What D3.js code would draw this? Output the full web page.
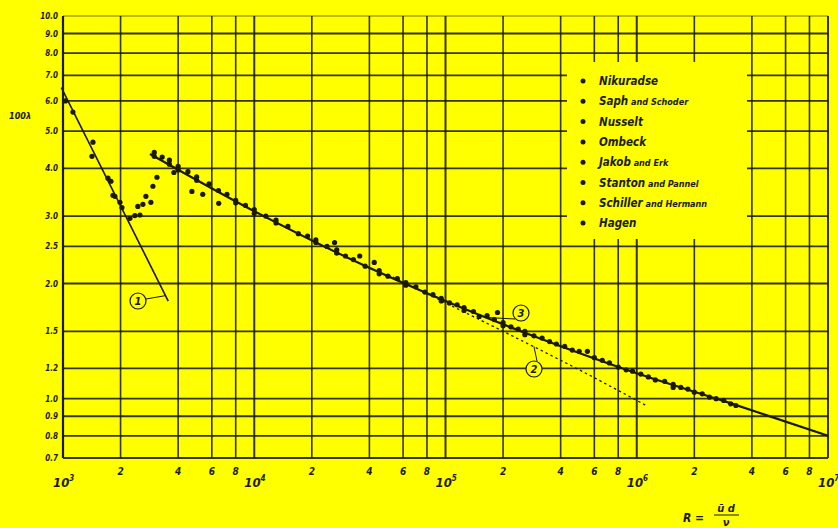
<!DOCTYPE html>
<html>
<head>
<meta charset="utf-8">
<script src="https://cdn.jsdelivr.net/npm/d3@7"></script>
<style>
  html, body { margin: 0; padding: 0; background: #ffff00; }
  svg { display: block; }
  text { font-family: "Liberation Sans Narrow", "DejaVu Sans Condensed", "Liberation Sans", sans-serif; font-style: italic; font-weight: bold; fill: #1c1c00; }
</style>
</head>
<body>
<svg id="chart" width="838" height="528"></svg>
<script>
// ---------- data ----------
const yTickValues = [10, 9, 8, 7, 6, 5, 4, 3, 2.5, 2, 1.5, 1.2, 1.0, 0.9, 0.8, 0.7];
const yTickLabels = ["10.0", "9.0", "8.0", "7.0", "6.0", "5.0", "4.0", "3.0", "2.5", "2.0", "1.5", "1.2", "1.0", "0.9", "0.8", "0.7"];
const decades = [1e3, 1e4, 1e5, 1e6, 1e7];
const decadeExponents = ["3", "4", "5", "6", "7"];
const minorMultipliers = [2, 4, 6, 8];

const legendEntries = [
  ["Nikuradse", ""],
  ["Saph", " and Schoder"],
  ["Nusselt", ""],
  ["Ombeck", ""],
  ["Jakob", " and Erk"],
  ["Stanton", " and Pannel"],
  ["Schiller", " and Hermann"],
  ["Hagen", ""]
];

// curve 1: laminar
const laminarLineR = [980, 3550];
const laminarLineV = [6.5, 1.80];
// curve 3: smooth pipe (solid)
const smoothLineR = [2850, 1e4, 3e4, 1e5, 3e5, 1e6, 3e6, 1e7];
const smoothLineV = [4.36, 3.09, 2.35, 1.80, 1.447, 1.165, 0.978, 0.80];
// curve 2: dashed
const dashedLineR = [5e4, 1e5, 2e5, 5e5, 1.12e6];
const dashedLineV = [2.11, 1.78, 1.50, 1.19, 0.96];

// measured points
const laminarR = [1030, 1127, 1434, 1417, 1718, 1781, 1824, 1868, 1985, 2033];
const laminarV = [6.0, 5.61, 4.68, 4.30, 3.77, 3.70, 3.40, 3.38, 3.26, 3.16];

const transitionR = [2239, 2375, 2525, 2461, 2617, 2713, 2880, 2952, 3100];
const transitionV = [2.96, 3.01, 3.02, 3.18, 3.22, 3.38, 3.26, 3.59, 3.79];

const turbulentR = [3000, 3000, 3300, 3600, 3600, 3800, 4000, 4000, 4500, 4720, 5000, 5000, 5380, 5800, 6500, 6520, 7200,
  8000, 8000, 9000, 10000, 10000, 11500, 13000, 13000, 15000, 17000, 19000, 21000, 21000, 24000, 26300, 27000, 27000,
  30000, 33000, 35600, 38000, 42400, 45000, 45000, 50000, 56000, 62000, 62000, 70000, 78000, 86000, 95000, 95000,
  105000, 115000, 125000, 125000, 140000, 150000, 165000, 180000, 187000, 200000, 200000, 220000, 240000, 260000, 260000,
  290000, 320000, 350000, 380000, 420000, 460000, 500000, 552000, 600000, 660000, 720000, 800000, 880000, 950000,
  1050000, 1150000, 1250000, 1400000, 1550000, 1550000, 1700000, 1850000, 2000000, 2200000, 2400000, 2600000, 2850000,
  3100000, 3300000];
const turbulentV = [4.40, 4.30, 4.28, 4.10, 4.20, 3.90, 4.05, 3.96, 3.92, 3.48, 3.80, 3.72, 3.42, 3.64, 3.50, 3.24, 3.42,
  3.30, 3.25, 3.20, 3.12, 3.05, 3.00, 2.88, 2.93, 2.82, 2.70, 2.66, 2.56, 2.60, 2.50, 2.56, 2.45, 2.40,
  2.36, 2.31, 2.36, 2.22, 2.27, 2.16, 2.12, 2.09, 2.06, 2.01, 1.98, 1.96, 1.90, 1.87, 1.83, 1.80,
  1.78, 1.76, 1.73, 1.70, 1.69, 1.64, 1.65, 1.61, 1.68, 1.58, 1.55, 1.54, 1.52, 1.50, 1.47,
  1.46, 1.44, 1.41, 1.39, 1.37, 1.34, 1.33, 1.33, 1.28, 1.26, 1.24, 1.21, 1.19, 1.18,
  1.16, 1.14, 1.12, 1.11, 1.09, 1.07, 1.07, 1.06, 1.04, 1.03, 1.01, 1.00, 0.99,
  0.97, 0.96];

// ---------- drawing ----------
const svg = d3.select("#chart");
const ink = "#1a1a00";
svg.append("rect").attr("width", 838).attr("height", 528).attr("fill", "#ffff00");

const x = d3.scaleLog().domain([1e3, 1e7]).range([63, 828]);
const y = d3.scaleLog().domain([0.7, 10]).range([458, 16]);

const grid = svg.append("g");
// vertical grid lines
const vLines = [];
decades.forEach((d, i) => {
  vLines.push({ v: d, major: true });
  if (i < decades.length - 1) minorMultipliers.forEach(m => vLines.push({ v: d * m, major: false }));
});
grid.selectAll("line.v").data(vLines).join("line")
  .attr("x1", d => x(d.v)).attr("x2", d => x(d.v))
  .attr("y1", y(10)).attr("y2", y(0.7))
  .attr("stroke", ink).attr("stroke-width", d => d.major ? 2 : 1.6).attr("stroke-opacity", 0.88);
// horizontal grid lines
grid.selectAll("line.h").data(yTickValues).join("line")
  .attr("x1", x(1e3)).attr("x2", x(1e7))
  .attr("y1", d => y(d)).attr("y2", d => y(d))
  .attr("stroke", ink).attr("stroke-width", d => (d === 10 ? 1.2 : 1.8)).attr("stroke-opacity", d => (d === 10 ? 0.6 : 0.88));
// border
svg.append("line").attr("x1", x(1e3)).attr("x2", x(1e3)).attr("y1", y(10)).attr("y2", y(0.7))
  .attr("stroke", ink).attr("stroke-width", 2.2);

// legend background (covers grid)
svg.append("rect").attr("x", 567).attr("y", 62).attr("width", 180).attr("height", 177).attr("fill", "#ffff00");

// y tick labels
svg.append("g").selectAll("text").data(yTickValues).join("text")
  .attr("x", 58).attr("y", d => y(d) + 3)
  .attr("text-anchor", "end").attr("font-size", 8)
  .text((d, i) => yTickLabels[i]);

// x tick labels (minor)
const minorTicks = vLines.filter(d => !d.major);
svg.append("g").selectAll("text").data(minorTicks).join("text")
  .attr("x", d => x(d.v)).attr("y", 475)
  .attr("text-anchor", "middle").attr("font-size", 10)
  .text(d => String(Math.round(d.v / Math.pow(10, Math.floor(Math.log10(d.v) + 1e-9)))));
// decade labels
const decG = svg.append("g").selectAll("text").data(decades).join("text")
  .attr("x", d => x(d) - 10).attr("y", 487)
  .attr("font-size", 13);
decG.append("tspan").text("10");
decG.append("tspan").attr("dy", -6).attr("font-size", 8).text((d, i) => decadeExponents[i]);

// axis titles
svg.append("text").attr("x", 9).attr("y", 119).attr("font-size", 9).text("100λ");
svg.append("text").attr("x", 683).attr("y", 522).attr("font-size", 12).attr("font-style", "normal").attr("font-weight", "normal").text("R =");
svg.append("text").attr("x", 726).attr("y", 512).attr("font-size", 11).attr("text-anchor", "middle").text("ū d");
svg.append("line").attr("x1", 714).attr("x2", 739).attr("y1", 515).attr("y2", 515).attr("stroke", ink).attr("stroke-width", 1);
svg.append("text").attr("x", 726).attr("y", 526).attr("font-size", 11).attr("text-anchor", "middle").text("ν");

// curves
const line = d3.line().x(d => x(d[0])).y(d => y(d[1]));
svg.append("path").attr("d", line(laminarLineR.map((r, i) => [r, laminarLineV[i]])))
  .attr("fill", "none").attr("stroke", ink).attr("stroke-width", 1.6);
svg.append("path").attr("d", line.curve(d3.curveMonotoneX)(smoothLineR.map((r, i) => [r, smoothLineV[i]])))
  .attr("fill", "none").attr("stroke", ink).attr("stroke-width", 2.2);
svg.append("path").attr("d", line.curve(d3.curveMonotoneX)(dashedLineR.map((r, i) => [r, dashedLineV[i]])))
  .attr("fill", "none").attr("stroke", ink).attr("stroke-width", 1.3).attr("stroke-dasharray", "2.5,3");

// points
const pts = [];
laminarR.forEach((r, i) => pts.push([r, laminarV[i]]));
transitionR.forEach((r, i) => pts.push([r, transitionV[i]]));
turbulentR.forEach((r, i) => pts.push([r, turbulentV[i]]));
svg.append("g").selectAll("circle").data(pts).join("circle")
  .attr("cx", d => x(d[0])).attr("cy", d => y(d[1])).attr("r", 2.6).attr("fill", ink);

// circled annotations
const notes = [
  { label: "1", cx: 138, cy: 301, lx1: 146, ly1: 299, lx2: x(3450), ly2: y(1.86) },
  { label: "3", cx: 521, cy: 313, lx1: 515, ly1: 319, lx2: x(1.65e5), ly2: y(1.63) },
  { label: "2", cx: 534, cy: 369, lx1: 537, ly1: 361, lx2: x(2.9e5), ly2: y(1.37) }
];
const ng = svg.append("g").selectAll("g").data(notes).join("g");
ng.append("line").attr("x1", d => d.lx1).attr("y1", d => d.ly1).attr("x2", d => d.lx2).attr("y2", d => d.ly2)
  .attr("stroke", ink).attr("stroke-width", 1);
ng.append("circle").attr("cx", d => d.cx).attr("cy", d => d.cy).attr("r", 8)
  .attr("fill", "#ffff00").attr("stroke", ink).attr("stroke-width", 1.2);
ng.append("text").attr("x", d => d.cx).attr("y", d => d.cy + 4).attr("text-anchor", "middle")
  .attr("font-size", 11).attr("font-weight", "normal").text(d => d.label);

// legend
const lg = svg.append("g").selectAll("g").data(legendEntries).join("g")
  .attr("transform", (d, i) => `translate(0, ${81 + i * 20.3})`);
lg.append("circle").attr("cx", 583).attr("cy", 0).attr("r", 2.5).attr("fill", ink);
const lt = lg.append("text").attr("x", 599).attr("y", 4).attr("font-size", 11.5);
lt.append("tspan").text(d => d[0]);
lt.append("tspan").attr("font-size", 9).text(d => d[1]);
</script>
</body>
</html>
